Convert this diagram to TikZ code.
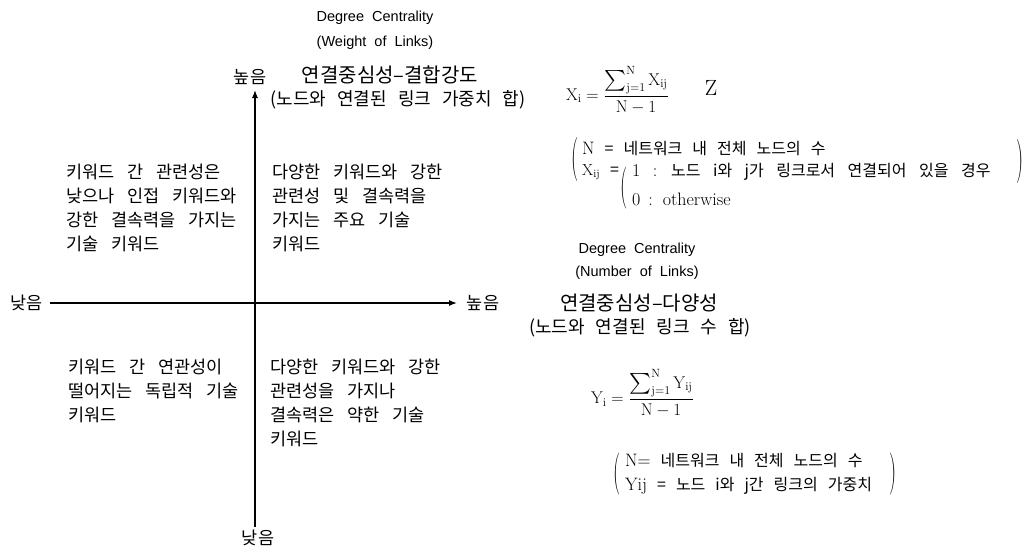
\RequirePackage{fix-cm}
\documentclass[tikz,border=0pt]{standalone}
\usepackage{exscale}
\usepackage{fontspec}
\usepackage{graphicx}
\usetikzlibrary{arrows.meta}
\newfontfamily\kr{Noto Sans CJK KR}
\newfontfamily\arial{Liberation Sans}
\newcommand{\krsp}[1]{\spaceskip=#1\relax}
\newcommand{\tallparen}[2]{\scalebox{1}[#2]{#1}}
\newcommand{\bigsum}{\mathop{\hbox{\fontsize{20}{20}\selectfont$\textstyle\sum$}}\nolimits}

\begin{document}
\begin{tikzpicture}[
    x=1pt, y=-1pt,
    axis/.style={-{Latex[length=8pt,width=6pt]}, line width=1.2pt},
    lbl/.style={font=\kr\fontsize{17.5}{22}\selectfont, inner sep=0pt},
    quad/.style={font=\kr\fontsize{17.5}{24}\selectfont\krsp{13pt}, align=left,
                 anchor=north west, inner sep=0pt},
    title/.style={font=\kr\fontsize{20}{24}\selectfont, inner sep=0pt},
    sub/.style={font=\kr\fontsize{18}{22}\selectfont\krsp{11pt}, inner sep=0pt},
    eng/.style={font=\arial\fontsize{14.5}{17}\selectfont, inner sep=0pt},
    form/.style={font=\fontsize{17}{20}\selectfont, inner sep=0pt},
    defn/.style={font=\kr\fontsize{16}{18}\selectfont\krsp{10pt}, anchor=west, inner sep=0pt},
    roman/.style={font=\rmfamily\fontsize{18}{18}\selectfont\krsp{8pt}, anchor=west, inner sep=0pt},
    paren/.style={font=\fontsize{20}{20}\selectfont, inner sep=0pt},
]
  \useasboundingbox (0,0) rectangle (1033,552);

  % Axes
  \coordinate (xs) at (50,303);
  \coordinate (xe) at (457,303);
  \coordinate (ys) at (255,527);
  \coordinate (ye) at (255,90);
  \draw[axis] (xs) -- (xe);
  \draw[axis] (ys) -- (ye);

  % Axis ends
  \node[lbl] (xlow) at (27,303) {낮음};
  \node[lbl] (xhigh) at (483,303) {높음};
  \node[lbl] (yhigh) at (250,77) {높음};
  \node[lbl] (ylow) at (258,538) {낮음};

  % Quadrants
  \node[quad] (q2) at (66,164) {키워드 간 관련성은\\낮으나 인접 키워드와\\강한 결속력을 가지는\\기술 키워드};
  \node[quad] (q1) at (272,164) {다양한 키워드와 강한\\관련성 및 결속력을\\가지는 주요 기술\\키워드};
  \node[quad] (q3) at (68,359) {키워드 간 연관성이\\떨어지는 독립적 기술\\키워드};
  \node[quad] (q4) at (270,359) {다양한 키워드와 강한\\관련성을 가지나\\결속력은 약한 기술\\키워드};

  % Weight of links (vertical)
  \node[eng] (wdc) at (375,18) {Degree\ \ Centrality};
  \node[eng] (wwl) at (375,43) {(Weight\ \ of\ \ Links)};
  \node[title] (wkr) at (390,75) {연결중심성–결합강도};
  \node[sub] (wsub) at (398,100) {(노드와 연결된 링크 가중치 합)};
  \node[form, anchor=west] (xform) at (566,90)
    {$\mathrm{X}_{\mathrm{i}}=\displaystyle\frac{\bigsum_{\mathrm{j=1}}^{\mathrm{N}}\mathrm{X}_{\mathrm{ij}}}{\mathrm{N}-1}$};
  \node[form, font=\fontsize{22}{24}\selectfont] (zz) at (711,88) {Z};

  \node[paren] (lp1) at (575,160) {\tallparen{(}{2.2}};
  \node[defn] (xn) at (582,149) {{\rmfamily\fontsize{18}{18}\selectfont N} = 네트워크 내 전체 노드의 수};
  \node[defn] (xij) at (582,172) {$\mathrm{X}_{\mathrm{ij}}$ =};
  \node[paren] (ip1) at (624,188) {\tallparen{(}{2.1}};
  \node[defn, font=\kr\fontsize{16}{18}\selectfont\krsp{12.5pt}] (xone) at (632,172)
    {{\rmfamily\fontsize{18}{18}\selectfont 1 :} 노드 i와 j가 링크로서 연결되어 있을 경우};
  \node[roman] (xzero) at (632,199) {0 : otherwise};
  \node[paren] (rp1) at (1020,162) {\tallparen{)}{2.2}};

  % Number of links (horizontal)
  \node[eng] (ndc) at (637,250) {Degree\ \ Centrality};
  \node[eng] (nnl) at (637,273) {(Number\ \ of\ \ Links)};
  \node[title] (nkr) at (639,303) {연결중심성–다양성};
  \node[sub] (nsub) at (640,328) {(노드와 연결된 링크 수 합)};
  \node[form, anchor=west] (yform) at (591,393)
    {$\mathrm{Y}_{\mathrm{i}}=\displaystyle\frac{\bigsum_{\mathrm{j=1}}^{\mathrm{N}}\mathrm{Y}_{\mathrm{ij}}}{\mathrm{N}-1}$};

  \node[paren] (lp2) at (617,474) {\tallparen{(}{2.1}};
  \node[defn] (yn) at (625,461)
    {{\rmfamily\fontsize{18}{18}\selectfont N=} 네트워크 내 전체 노드의 수};
  \node[defn] (yij) at (625,486)
    {{\rmfamily\fontsize{18}{18}\selectfont Yij} = 노드 i와 j간 링크의 가중치};
  \node[paren] (rp2) at (893,474) {\tallparen{)}{2.1}};

\end{tikzpicture}
\end{document}
